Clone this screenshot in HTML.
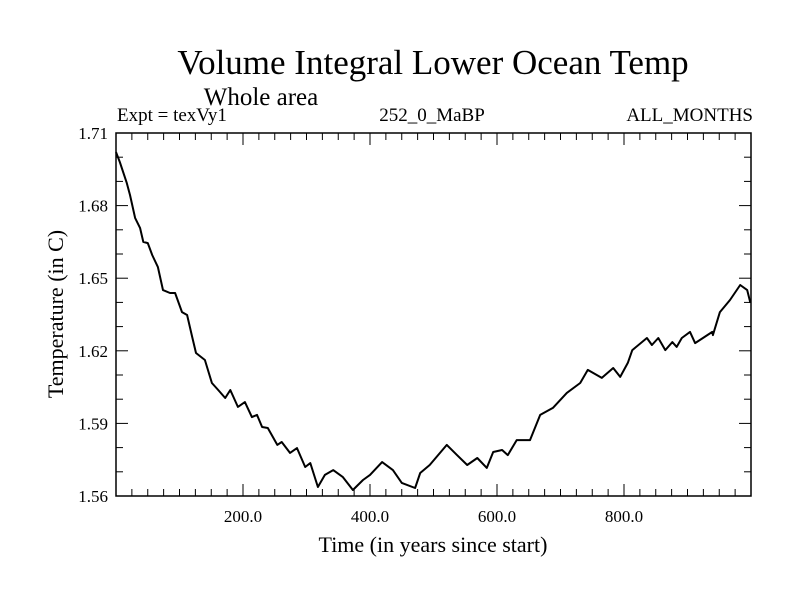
<!DOCTYPE html>
<html><head><meta charset="utf-8"><style>
body{margin:0;background:#fff}
svg text{font-family:"Liberation Serif",serif;fill:#000}
</style></head><body>
<svg id="chart" width="800" height="600" viewBox="0 0 800 600" xmlns="http://www.w3.org/2000/svg">
<rect width="800" height="600" fill="#fff"/>
<text x="433" y="74" font-size="35" text-anchor="middle">Volume Integral Lower Ocean Temp</text>
<text x="261" y="105" font-size="25" text-anchor="middle">Whole area</text>
<text x="117" y="121" font-size="19">Expt = texVy1</text>
<text x="432" y="121" font-size="19" text-anchor="middle">252_0_MaBP</text>
<text x="753" y="121" font-size="19" text-anchor="end">ALL_MONTHS</text>
<g id="axes"></g>
<path id="series" fill="none" stroke="#000" stroke-width="2" stroke-linejoin="round"/>
<text x="433" y="552" font-size="22" text-anchor="middle">Time (in years since start)</text>
<text transform="translate(63,314) rotate(-90)" font-size="22" text-anchor="middle">Temperature (in C)</text>
</svg>
<script>
const years=[0,6,17,22,30,38,43,50,57,66,74,85,93,104,112,120,126,140,151,161,172,180,192,203,214,222,230,239,254,261,274,285,298,306,318,329,342,357,373,389,400,419,436,450,471,479,494,521,537,553,569,584,594,608,617,631,652,668,688,710,731,743,765,783,794,806,813,836,844,854,865,876,883,891,904,912,939,940,951,967,983,994,999];
const temps=[1.7021,1.6980,1.6893,1.6844,1.6749,1.6707,1.6650,1.6645,1.6596,1.6546,1.6451,1.6439,1.6439,1.6360,1.6348,1.6257,1.6191,1.6162,1.6067,1.6038,1.6005,1.6038,1.5968,1.5988,1.5926,1.5935,1.5885,1.5881,1.5811,1.5823,1.5778,1.5798,1.5720,1.5736,1.5637,1.5687,1.5707,1.5679,1.5625,1.5666,1.5687,1.5740,1.5707,1.5654,1.5633,1.5695,1.5728,1.5811,1.5769,1.5728,1.5757,1.5716,1.5782,1.5790,1.5769,1.5831,1.5831,1.5935,1.5964,1.6026,1.6067,1.6121,1.6088,1.6129,1.6092,1.6150,1.6203,1.6253,1.6224,1.6253,1.6203,1.6236,1.6216,1.6253,1.6278,1.6232,1.6278,1.6265,1.6360,1.6410,1.6472,1.6451,1.6398];
const xTicks=[200,400,600,800];
const xTickLabels=["200.0","400.0","600.0","800.0"];
const yTicks=[1.56,1.59,1.62,1.65,1.68,1.71];
const yTickLabels=["1.56","1.59","1.62","1.65","1.68","1.71"];
const X0=116,X1=751,Y0=496,Y1=133,xMin=0,xMax=1000,yMin=1.56,yMax=1.71;
const sx=v=>X0+(v-xMin)/(xMax-xMin)*(X1-X0);
const sy=v=>Y0-(v-yMin)/(yMax-yMin)*(Y0-Y1);
const NS="http://www.w3.org/2000/svg";
const ax=document.getElementById('axes');
function mk(t,a){const e=document.createElementNS(NS,t);for(const k in a)e.setAttribute(k,a[k]);ax.appendChild(e);return e;}
const frame=mk('rect',{x:X0,y:Y1,width:X1-X0,height:Y0-Y1,fill:'none',stroke:'#000','stroke-width':1.5});


for(let v=25;v<xMax;v+=25){const maj=v%200===0;const L=maj?12:7;const x=sx(v);
 const t1=mk('line',{x1:x,x2:x,y1:Y0,y2:Y0-L,stroke:'#000','stroke-width':1});
 
 
 const t2=mk('line',{x1:x,x2:x,y1:Y1,y2:Y1+L,stroke:'#000','stroke-width':1});
 
 }
for(let i=1;i<15;i++){const v=yMin+i*0.01;const maj=i%3===0;const L=maj?12:7;const y=sy(v);
 const t1=mk('line',{x1:X0,x2:X0+L,y1:y,y2:y,stroke:'#000','stroke-width':1});
 
 
 const t2=mk('line',{x1:X1,x2:X1-L,y1:y,y2:y,stroke:'#000','stroke-width':1});
 
 }
xTicks.forEach((v,i)=>{const t=mk('text',{x:sx(v),y:Y0+26,'font-size':17,'text-anchor':'middle'});t.textContent=xTickLabels[i];
 
 });
yTicks.forEach((v,i)=>{const t=mk('text',{x:X0-8,y:sy(v)+6,'font-size':17,'text-anchor':'end'});t.textContent=yTickLabels[i];
 
 });
document.getElementById('series').setAttribute('d',years.map((yr,i)=>(i?'L':'M')+sx(yr).toFixed(1)+','+sy(temps[i]).toFixed(1)).join(''));
</script>
</body></html>
